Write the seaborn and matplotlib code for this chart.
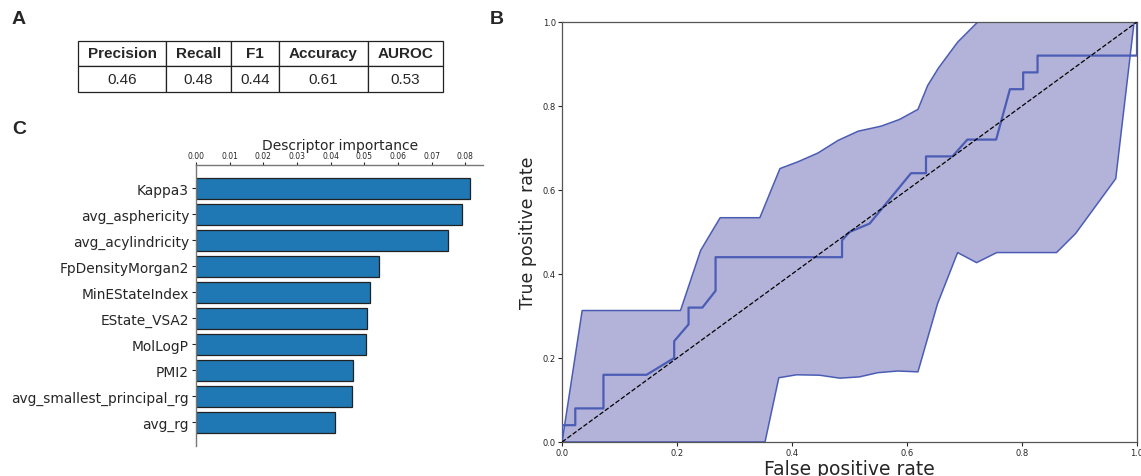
import numpy as np
import pandas as pd
import matplotlib
matplotlib.use("Agg")
import matplotlib.pyplot as plt
import seaborn as sns

# --- Panel A: summary metrics ---
metric_names = ["Precision", "Recall", "F1", "Accuracy", "AUROC"]
metric_values = ["0.46", "0.48", "0.44", "0.61", "0.53"]

# --- Panel C: descriptor importance ---
descriptors = ["Kappa3", "avg_asphericity", "avg_acylindricity", "FpDensityMorgan2",
               "MinEStateIndex", "EState_VSA2", "MolLogP", "PMI2",
               "avg_smallest_principal_rg", "avg_rg"]
importance = [0.0815, 0.0790, 0.0749, 0.0544, 0.0518, 0.0508, 0.0506, 0.0468, 0.0465, 0.0413]

# --- Panel B: mean ROC curve and band ---
mean_fpr = [0.0, 0.0, 0.023, 0.023, 0.072, 0.072, 0.147, 0.195, 0.195, 0.22, 0.22, 0.244,
            0.267, 0.267, 0.487, 0.487, 0.50, 0.535, 0.607, 0.633, 0.633, 0.679, 0.705,
            0.755, 0.779, 0.802, 0.802, 0.827, 0.827, 1.0, 1.0]
mean_tpr = [0.0, 0.04, 0.04, 0.08, 0.08, 0.16, 0.16, 0.20, 0.24, 0.28, 0.32, 0.32,
            0.36, 0.44, 0.44, 0.48, 0.50, 0.52, 0.64, 0.64, 0.68, 0.68, 0.72,
            0.72, 0.84, 0.84, 0.88, 0.88, 0.92, 0.92, 1.0]

upper_fpr = [0.0, 0.035, 0.206, 0.241, 0.254, 0.275, 0.344, 0.379, 0.41, 0.445, 0.48, 0.515,
             0.555, 0.587, 0.619, 0.636, 0.655, 0.688, 0.723, 1.0]
upper_tpr = [0.0, 0.313, 0.313, 0.456, 0.486, 0.534, 0.534, 0.651, 0.667, 0.688, 0.718, 0.74,
             0.752, 0.768, 0.792, 0.849, 0.891, 0.952, 1.0, 1.0]

lower_fpr = [0.0, 0.353, 0.377, 0.408, 0.448, 0.483, 0.517, 0.549, 0.584, 0.619, 0.653,
             0.688, 0.721, 0.756, 0.86, 0.893, 0.963, 0.995, 1.0]
lower_tpr = [0.0, 0.0, 0.153, 0.160, 0.159, 0.152, 0.155, 0.165, 0.169, 0.167, 0.329,
             0.451, 0.427, 0.451, 0.451, 0.496, 0.627, 1.0, 1.0]

sns.set_style("ticks")
plt.rcParams['font.family'] = ['DejaVu Sans']

fig = plt.figure(figsize=(11.41, 4.77), dpi=100)

line_blue = "#4b5cb5"
fill_blue = "#b3b3d9"

# --- ROC panel ---
ax_roc = fig.add_axes([0.4926, 0.0713, 0.5039, 0.8805])
band_x = np.concatenate([upper_fpr, lower_fpr[::-1]])
band_y = np.concatenate([upper_tpr, lower_tpr[::-1]])
ax_roc.fill(band_x, band_y, facecolor=fill_blue, edgecolor="none", zorder=1)
ax_roc.plot(upper_fpr, upper_tpr, color=line_blue, lw=1.1, zorder=2)
ax_roc.plot(lower_fpr, lower_tpr, color=line_blue, lw=1.1, zorder=2)
sns.lineplot(x=mean_fpr, y=mean_tpr, sort=False, estimator=None, color=line_blue,
             lw=1.6, ax=ax_roc, zorder=3)
ax_roc.plot([0, 1], [0, 1], color="black", lw=0.9, linestyle="--", zorder=4)
ax_roc.set_xlim(0, 1)
ax_roc.set_ylim(0, 1)
ax_roc.set_xticks([0, 0.2, 0.4, 0.6, 0.8, 1.0])
ax_roc.set_yticks([0, 0.2, 0.4, 0.6, 0.8, 1.0])
ax_roc.tick_params(labelsize=6, length=3, width=0.8, pad=1.5)
ax_roc.set_xlabel("False positive rate", fontsize=13.5, labelpad=1)
ax_roc.set_ylabel("True positive rate", fontsize=12.5, labelpad=4)
for s in ax_roc.spines.values():
    s.set_color("#555555")
    s.set_linewidth(0.9)

# --- Descriptor importance panel ---
ax_bar = fig.add_axes([0.1718, 0.0635, 0.2518, 0.5891])
imp_df = pd.DataFrame({"descriptor": descriptors, "importance": importance})
ax_bar.barh(imp_df["descriptor"], imp_df["importance"], height=0.8,
            color="#1f77b4", edgecolor="#222222", linewidth=0.9)
ax_bar.set_ylim(len(descriptors) - 0.1, -0.9)
ax_bar.set_xlim(0, 0.0854)
ax_bar.xaxis.tick_top()
ax_bar.xaxis.set_label_position("top")
ax_bar.set_xticks(np.arange(0, 0.081, 0.01))
ax_bar.set_xticklabels([f"{v:.2f}" for v in np.arange(0, 0.081, 0.01)])
ax_bar.tick_params(axis="x", labelsize=5.5, length=2.5, width=0.8, pad=1)
ax_bar.tick_params(axis="y", labelsize=9.9, length=3, width=0.8, pad=2)
ax_bar.set_xlabel("Descriptor importance", fontsize=10, labelpad=1)
ax_bar.set_ylabel("")
ax_bar.spines["right"].set_visible(False)
ax_bar.spines["bottom"].set_visible(False)
for s in ["top", "left"]:
    ax_bar.spines[s].set_color("#777777")
    ax_bar.spines[s].set_linewidth(1.0)

# --- Metrics table ---
ax_tab = fig.add_axes([78.3 / 1141, 1 - 92.7 / 477, 364.4 / 1141, 51 / 477])
ax_tab.axis("off")
col_w = np.array([87.7, 64.7, 48.6, 88.4, 75.0])
tab = ax_tab.table(cellText=[metric_values], colLabels=metric_names, cellLoc="center",
                   colWidths=list(col_w / col_w.sum()), bbox=[0, 0, 1, 1])
tab.auto_set_font_size(False)
for (r, c), cell in tab.get_celld().items():
    cell.set_linewidth(0.9)
    cell.set_edgecolor("#222222")
    txt = cell.get_text()
    txt.set_fontfamily("Liberation Sans")
    txt.set_fontsize(11)
    if r == 0:
        txt.set_fontweight("bold")

# --- Panel letters ---
for letter, (x, y) in {"A": (12, 20), "B": (490, 20), "C": (12, 130)}.items():
    fig.text(x / 1141, 1 - y / 477, letter, fontsize=14, fontweight="bold",
             family="Liberation Sans", va="center", ha="left")

fig.savefig("out.png", dpi=100)
